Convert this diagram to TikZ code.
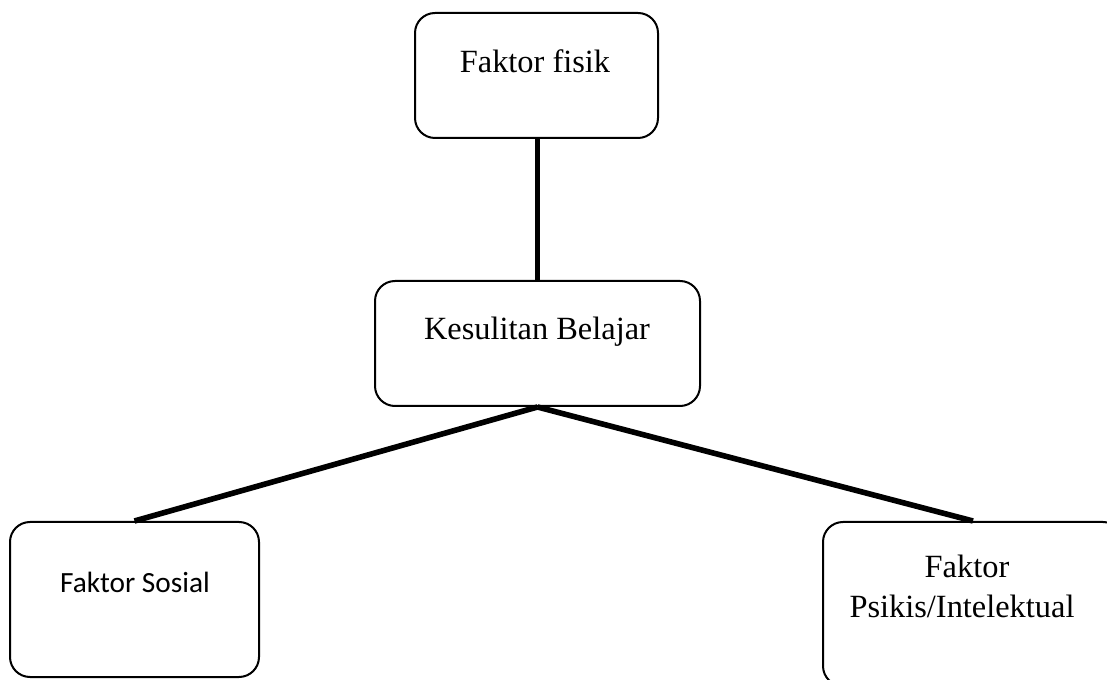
\documentclass[tikz,border=0pt]{standalone}
\usepackage{fontspec}
\setmainfont{Liberation Serif}
\newfontfamily\calib{Carlito}
\usetikzlibrary{fit}
\begin{document}
\begin{tikzpicture}[x=0.75pt,y=-0.75pt,
  box/.style={draw, line width=1.5pt, rounded corners=15pt, inner sep=0pt},
  conn/.style={line width=4.2pt},
  lbl/.style={anchor=base, inner sep=0pt, font=\fontsize{24.3}{30}\selectfont},
  slbl/.style={anchor=base, inner sep=0pt, font=\calib\fontsize{22}{26}\selectfont}]
\useasboundingbox (0,0) rectangle (1107,680);
\clip (0,0) rectangle (1107,680);
\node[box, fit={(415,13) (658,138)}] (fisik) {};
\node[box, fit={(375,281) (700,406)}] (kesulitan) {};
\node[box, fit={(10,522) (259,677)}] (sosial) {};
\node[box, fit={(823,522) (1123,686)}] (psikis) {};
\node[lbl] (tfisik) at (535,73) {Faktor fisik};
\node[lbl] (tkes) at (537,340) {Kesulitan Belajar};
\node[slbl] (tsos) at (135,593) {Faktor Sosial};
\node[lbl] (tpsi1) at (967,578) {Faktor};
\node[lbl] (tpsi2) at (962,618) {Psikis/Intelektual};
\draw[conn] (kesulitan.north |- fisik.south) -- (kesulitan.north);
\draw[conn] (kesulitan.south) -- (sosial.north);
\draw[conn] (kesulitan.south) -- (psikis.north);
\end{tikzpicture}
\end{document}
